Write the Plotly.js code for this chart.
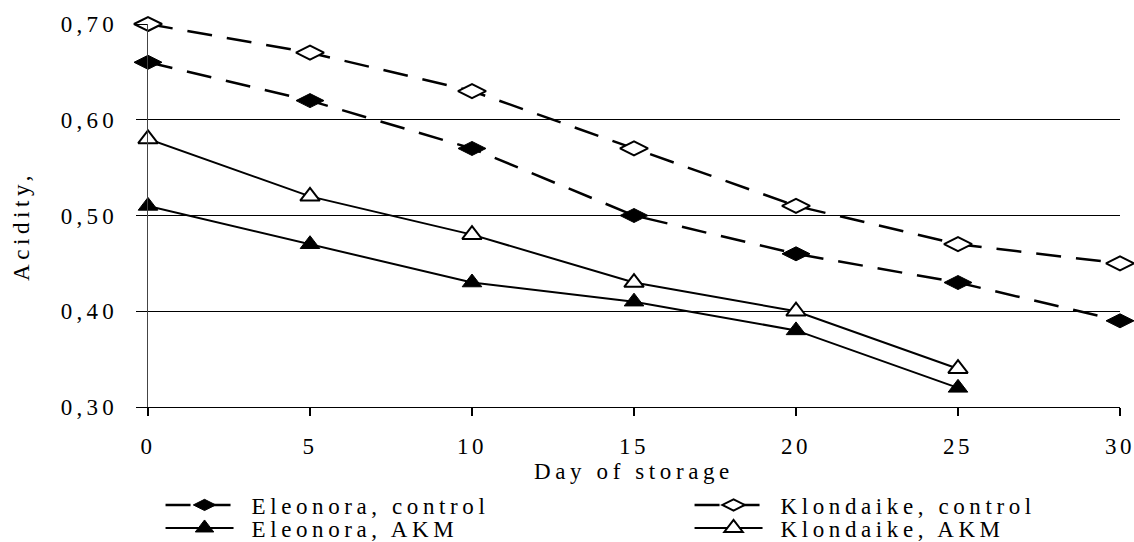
<!DOCTYPE html>
<html>
<head>
<meta charset="utf-8">
<script src="https://cdn.plot.ly/plotly-3.0.1.min.js"></script>
<style>
  html, body { margin: 0; padding: 0; background: #fff; }
  #chart { width: 1134px; height: 542px; }
  svg text { letter-spacing: 4.6px; }
  .xtick text { letter-spacing: 3.5px; }
  .ytick text { letter-spacing: 4.2px; }
</style>
</head>
<body>
<div id="chart"></div>
<script>
const days = [0, 5, 10, 15, 20, 25, 30];
const daysAKM = [0, 5, 10, 15, 20, 25];
const eleonoraControl = [0.66, 0.62, 0.57, 0.50, 0.46, 0.43, 0.39];
const klondaikeControl = [0.70, 0.67, 0.63, 0.57, 0.51, 0.47, 0.45];
const eleonoraAKM = [0.51, 0.47, 0.43, 0.41, 0.38, 0.32];
const klondaikeAKM = [0.58, 0.52, 0.48, 0.43, 0.40, 0.34];
const yTickVals = [0.30, 0.40, 0.50, 0.60, 0.70];
const yTickText = ['0,30', '0,40', '0,50', '0,60', '0,70'];
const xTickVals = [0, 5, 10, 15, 20, 25, 30];
const names = ['Eleonora, control', 'Klondaike, control', 'Eleonora, AKM', 'Klondaike, AKM'];
const xTitle = 'Day of storage';
const yTitle = 'Acidity,';

const FONT = 'Liberation Serif, Times New Roman, serif';
const FS = 23;

const traces = [
  {
    x: days, y: eleonoraControl, name: names[0], mode: 'lines+markers',
    line: {color: '#000', width: 2.5, dash: '25px,15px'},
    marker: {symbol: 'diamond-wide', size: 20, color: '#000', line: {color: '#000', width: 1}},
    cliponaxis: false, legend: 'legend'
  },
  {
    x: days, y: klondaikeControl, name: names[1], mode: 'lines+markers',
    line: {color: '#000', width: 2.5, dash: '25px,15px'},
    marker: {symbol: 'diamond-wide', size: 20, color: '#fff', line: {color: '#000', width: 2}},
    cliponaxis: false, legend: 'legend2'
  },
  {
    x: daysAKM, y: eleonoraAKM, name: names[2], mode: 'lines+markers',
    line: {color: '#000', width: 2},
    marker: {symbol: 'triangle-up', size: 17, color: '#000', line: {color: '#000', width: 1}},
    cliponaxis: false, legend: 'legend3'
  },
  {
    x: daysAKM, y: klondaikeAKM, name: names[3], mode: 'lines+markers',
    line: {color: '#000', width: 2},
    marker: {symbol: 'triangle-up', size: 17, color: '#fff', line: {color: '#000', width: 2}},
    cliponaxis: false, legend: 'legend4'
  }
];

function leg(x, y) {
  return {
    font: {family: FONT, size: FS, color: '#000'},
    bgcolor: 'rgba(0,0,0,0)',
    orientation: 'v',
    itemwidth: 94,
    xref: 'container', yref: 'container',
    xanchor: 'left', yanchor: 'middle',
    x: x, y: y,
    itemclick: false
  };
}

const layout = {
  width: 1134, height: 542,
  paper_bgcolor: '#fff', plot_bgcolor: '#fff',
  font: {family: FONT, size: FS, color: '#000'},
  margin: {l: 148, r: 14, t: 24, b: 135, autoexpand: false},
  showlegend: true,
  legend: leg(0.1301, 0.0683),
  legend2: leg(0.5966, 0.0683),
  legend3: leg(0.1301, 0.0258),
  legend4: leg(0.5966, 0.0258),
  xaxis: {
    range: [0, 30], tickvals: xTickVals, ticks: 'outside', ticklen: 8, tickwidth: 1.2,
    tickcolor: '#000', showline: true, linecolor: '#000', linewidth: 1.2,
    showgrid: false, zeroline: false, ticklabelstandoff: 10, ticklabeloverflow: 'allow',
    tickfont: {family: FONT, size: FS, color: '#000'},
    title: {text: xTitle, font: {family: FONT, size: FS, color: '#000'}, standoff: 0}
  },
  yaxis: {
    range: [0.30, 0.70], tickvals: yTickVals, ticktext: yTickText,
    ticks: 'outside', ticklen: 11, tickwidth: 1, tickcolor: '#000',
    showline: true, linecolor: '#444', linewidth: 1.5,
    showgrid: true, gridcolor: '#000', gridwidth: 1, zeroline: false,
    ticklabelstandoff: 13, ticklabeloverflow: 'allow',
    tickfont: {family: FONT, size: FS, color: '#000'}
  },
  annotations: [{
    text: yTitle, textangle: -90, showarrow: false,
    xref: 'paper', yref: 'paper', x: -0.1296, y: 0.4726,
    xanchor: 'center', yanchor: 'middle',
    font: {family: FONT, size: FS, color: '#000'}
  }]
};

function fixLegend() {
  document.querySelectorAll('.infolayer path').forEach(function (p) {
    const d = p.getAttribute('d') || '';
    if (/^M5,0[hH]/.test(d)) {
      const grp = p.closest('g.traces') || p.parentNode.parentNode;
      grp.querySelectorAll('path').forEach(function (q) {
        const t = q.getAttribute('transform') || '';
        if (/translate\(/.test(t)) q.setAttribute('transform', t.replace(/translate\([^)]*\)/, 'translate(57,0)'));
      });
      p.setAttribute('d', 'M18,0h68');
    }
  });
}

Plotly.newPlot('chart', traces, layout, {staticPlot: true, displayModeBar: false}).then(function () {
  fixLegend();
  setTimeout(fixLegend, 50);
});
</script>
</body>
</html>
